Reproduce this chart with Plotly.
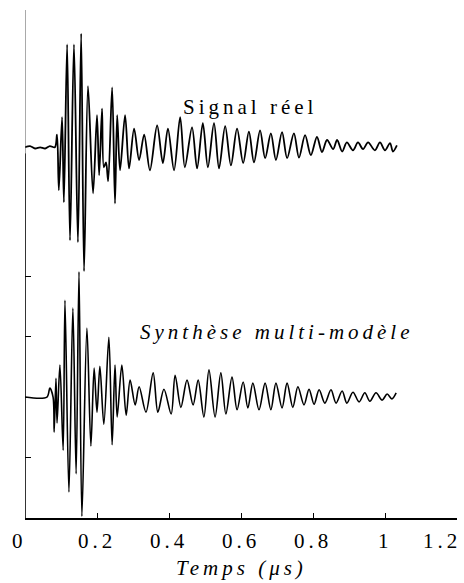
import plotly.graph_objects as go

# Measured waveform: time (µs) and amplitude at each half-cycle extreme
reel_t = [0.000, 0.014, 0.028, 0.042, 0.056, 0.069, 0.083, 0.089, 0.094, 0.103,
          0.108, 0.117, 0.125, 0.136, 0.147, 0.156, 0.164, 0.175, 0.189, 0.200,
          0.206, 0.214, 0.219, 0.225, 0.231, 0.242, 0.250, 0.256, 0.264, 0.278,
          0.289, 0.303, 0.317, 0.331, 0.347, 0.367, 0.383, 0.397, 0.414, 0.431,
          0.444, 0.464, 0.478, 0.494, 0.508, 0.525, 0.539, 0.556, 0.572, 0.589,
          0.606, 0.622, 0.636, 0.653, 0.667, 0.683, 0.697, 0.714, 0.728, 0.747,
          0.761, 0.778, 0.794, 0.811, 0.825, 0.839, 0.856, 0.867, 0.881, 0.894,
          0.911, 0.925, 0.939, 0.953, 0.972, 0.986, 1.000, 1.014, 1.022, 1.033]
reel_a = [0.00, 0.02, -0.02, 0.00, -0.02, 0.02, 0.00, 0.21, -0.71, 0.50,
          -0.91, 1.70, -1.54, 1.70, -1.57, 1.88, -2.05, 1.01, -0.76, 0.53,
          -0.46, 0.64, -0.33, -0.25, -0.56, 0.99, -0.93, 0.53, -0.38, 0.53,
          -0.35, 0.31, -0.21, 0.21, -0.38, 0.36, -0.26, 0.31, -0.38, 0.50,
          -0.33, 0.33, -0.35, 0.40, -0.33, 0.40, -0.35, 0.35, -0.30, 0.31,
          -0.26, 0.26, -0.25, 0.28, -0.18, 0.23, -0.21, 0.25, -0.18, 0.23,
          -0.17, 0.20, -0.13, 0.17, -0.08, 0.12, -0.03, 0.12, -0.07, 0.08,
          -0.05, 0.08, -0.03, 0.08, -0.05, 0.08, -0.05, 0.07, -0.07, 0.03]

# Multi-model synthesis: time (µs) and amplitude at each extreme
synth_t = [0.000, 0.061, 0.069, 0.078, 0.081, 0.086, 0.089, 0.097, 0.106, 0.111,
           0.122, 0.133, 0.142, 0.150, 0.158, 0.172, 0.183, 0.192, 0.200, 0.208,
           0.219, 0.233, 0.242, 0.250, 0.256, 0.269, 0.281, 0.292, 0.306, 0.317,
           0.336, 0.356, 0.369, 0.386, 0.406, 0.417, 0.433, 0.450, 0.467, 0.481,
           0.497, 0.511, 0.528, 0.544, 0.558, 0.575, 0.589, 0.606, 0.619, 0.633,
           0.650, 0.667, 0.683, 0.697, 0.714, 0.728, 0.744, 0.758, 0.775, 0.789,
           0.803, 0.817, 0.833, 0.850, 0.864, 0.881, 0.894, 0.911, 0.928, 0.944,
           0.958, 0.975, 0.992, 1.006, 1.019, 1.031]
synth_a = [0.00, 0.00, 0.15, 0.00, -0.58, 0.31, -0.43, 0.53, -0.88, 1.60,
           -1.57, 1.47, -1.27, 2.07, -1.97, 1.14, -0.81, 0.48, -0.25, 0.51,
           -0.45, 0.99, -0.79, 0.53, -0.33, 0.53, -0.30, 0.28, -0.13, 0.17,
           -0.25, 0.40, -0.25, 0.13, -0.28, 0.36, -0.17, 0.28, -0.13, 0.28,
           -0.33, 0.45, -0.33, 0.40, -0.28, 0.33, -0.21, 0.25, -0.18, 0.23,
           -0.21, 0.23, -0.21, 0.23, -0.18, 0.23, -0.17, 0.17, -0.13, 0.13,
           -0.12, 0.12, -0.10, 0.12, -0.10, 0.10, -0.10, 0.08, -0.08, 0.07,
           -0.07, 0.07, -0.05, 0.05, -0.03, 0.07]

x_ticks = [0, 0.2, 0.4, 0.6, 0.8, 1.0, 1.2]
x_labels = ["0", "0.2", "0.4", "0.6", "0.8", "1", "1.2"]
y_ticks = [0, 1, 2, 3, 4]

# vertical offsets of the two traces on the shared axis
REEL_BASE = 6.13
SYNTH_BASE = 2.0

FONT = "Liberation Serif"


def spaced(s, px=4):
    """Letter-spaced text."""
    return '<span style="letter-spacing:%dpx">%s</span>' % (px, s)


def label_font():
    return dict(family=FONT, size=21, color="black")


fig = go.Figure()
fig.add_trace(go.Scatter(
    x=reel_t, y=[REEL_BASE + a for a in reel_a], mode="lines",
    line=dict(color="black", width=1.8, shape="spline", smoothing=0.9),
    hoverinfo="skip", showlegend=False))
fig.add_trace(go.Scatter(
    x=synth_t, y=[SYNTH_BASE + a for a in synth_a], mode="lines",
    line=dict(color="black", width=1.6, shape="spline", smoothing=0.9),
    hoverinfo="skip", showlegend=False))

annotations = [
    dict(x=0.625, y=6.79, xref="x", yref="y", yanchor="middle",
         text=spaced("Signal réel"), showarrow=False, font=label_font()),
    dict(x=0.314, y=3.07, xref="x", yref="y", xanchor="left", yanchor="middle",
         text="<i>" + spaced("Synthèse multi-modèle") + "</i>",
         showarrow=False, font=label_font()),
    dict(x=0.5, y=-0.098, xref="paper", yref="paper", yanchor="middle",
         text="<i>" + spaced("Temps (μs)") + "</i>",
         showarrow=False, font=label_font()),
]
# x tick labels
for v, lab in zip(x_ticks, x_labels):
    anchor, shift = "center", 0
    if v == 0:
        shift = -6
    if v == 1.2:
        anchor, shift = "right", 6
    annotations.append(dict(
        x=v, y=-0.045, xref="x", yref="paper", xanchor=anchor, yanchor="middle",
        xshift=shift, text=spaced(lab), showarrow=False, font=label_font()))

fig.update_layout(
    width=464, height=583,
    margin=dict(l=25, r=7, t=10, b=65),
    paper_bgcolor="white", plot_bgcolor="white",
    font=dict(family=FONT),
    annotations=annotations,
    shapes=[
        dict(type="line", xref="x", yref="y", x0=0, x1=0, y0=0, y1=REEL_BASE - 0.1,
             line=dict(color="black", width=1.6)),
        dict(type="line", xref="x", yref="y", x0=0, x1=0, y0=REEL_BASE - 0.1, y1=8.4,
             line=dict(color="#555555", width=1.0)),
    ],
)
fig.update_xaxes(
    range=[0, 1.2], showgrid=False, zeroline=False,
    showline=True, linecolor="black", linewidth=1.6,
    tickvals=x_ticks, ticks="inside", ticklen=5, tickcolor="black", tickwidth=1.2,
    showticklabels=False,
)
fig.update_yaxes(
    range=[0, 8.4], showgrid=False, zeroline=False, showline=False,
    tickvals=y_ticks, ticks="inside", ticklen=6, tickcolor="black", tickwidth=1.2,
    showticklabels=False,
)

fig.write_html("out.html")
